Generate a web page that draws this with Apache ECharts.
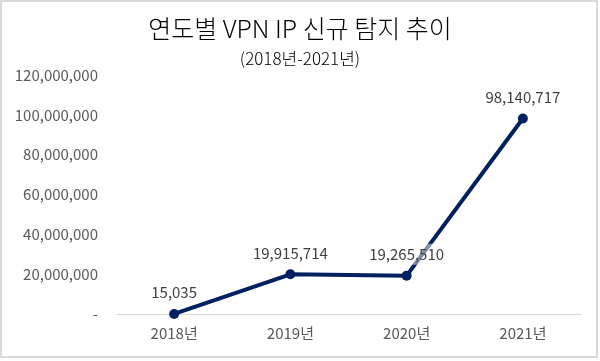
<!DOCTYPE html>
<html>
<head>
<meta charset="utf-8">
<script src="https://cdn.jsdelivr.net/npm/echarts@6/dist/echarts.min.js"></script>
<style>
html,body{margin:0;padding:0;background:#fff;}
#c{width:600px;height:361px;}
</style>
</head>
<body>
<div id="c"></div>
<script>
const categories = ['2018년', '2019년', '2020년', '2021년'];
const values = [15035, 19915714, 19265510, 98140717];
const yTicks = [0, 20000000, 40000000, 60000000, 80000000, 100000000, 120000000];

const font = '"Noto Sans CJK KR", "Noto Sans", sans-serif';
const chart = echarts.init(document.getElementById('c'), null, {renderer: 'canvas'});
chart.setOption({
  backgroundColor: '#fff',
  animation: false,
  textStyle: {fontFamily: font},
  graphic: [{
    type: 'rect',
    shape: {x: 1, y: 1, width: 596, height: 356},
    style: {fill: 'none', stroke: '#d9d9d9', lineWidth: 2},
    silent: true
  }],
  title: [{
    text: '연도별 VPN IP 신규 탐지 추이',
    left: 'center',
    top: 11,
    textStyle: {fontFamily: font, fontSize: 25, fontWeight: 300, color: '#000'}
  }, {
    text: '(2018년-2021년)',
    left: 'center',
    top: 45,
    textStyle: {fontFamily: font, fontSize: 17, fontWeight: 300, color: '#000'}
  }],
  grid: {left: 116, right: 19, top: 75, bottom: 47, containLabel: false},
  xAxis: {
    type: 'category',
    data: categories,
    boundaryGap: true,
    axisLine: {show: true, lineStyle: {color: '#d9d9d9', width: 1}},
    axisTick: {show: false},
    axisLabel: {color: '#595959', fontSize: 15, margin: 12, fontFamily: font}
  },
  yAxis: {
    type: 'value',
    min: yTicks[0],
    max: yTicks[yTicks.length - 1],
    interval: yTicks[1] - yTicks[0],
    splitLine: {show: false},
    axisLine: {show: false},
    axisTick: {show: false},
    axisLabel: {
      color: '#595959', fontSize: 15, margin: 18, fontFamily: font,
      formatter: v => v === 0 ? '-' : v.toLocaleString('en-US')
    }
  },
  series: [{
    type: 'line',
    data: values,
    symbol: 'circle',
    symbolSize: 10,
    lineStyle: {color: '#002060', width: 4},
    itemStyle: {color: '#002060'},
    label: {
      show: true,
      position: 'top',
      distance: 6,
      color: '#404040',
      fontSize: 15,
      fontFamily: font,
      backgroundColor: 'rgba(255,255,255,0.5)',
      padding: [3, 2],
      formatter: p => p.value.toLocaleString('en-US')
    }
  }]
});
</script>
</body>
</html>
